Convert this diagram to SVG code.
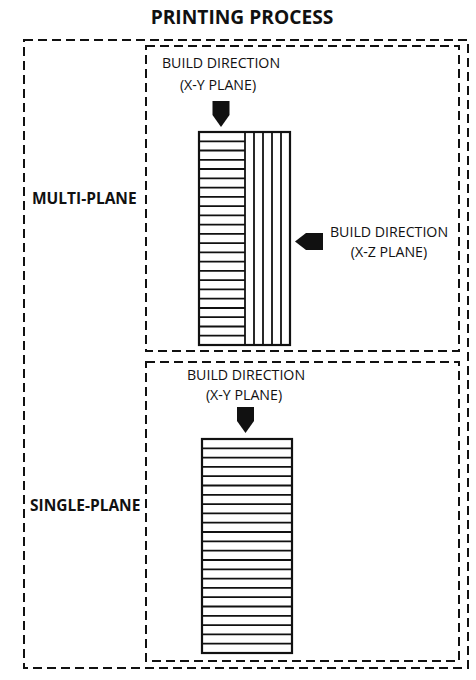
<svg xmlns="http://www.w3.org/2000/svg" width="476" height="680" viewBox="0 0 476 680">
<defs>
<style>
.dash{fill:none;stroke:#111;stroke-width:2;stroke-dasharray:9 5}
.blk{fill:#fff;stroke:#111;stroke-width:2.2}
.ln{stroke:#111;stroke-width:1.8}
.lbl{font-family:"Open Sans","Liberation Sans",sans-serif;font-size:14.2px;fill:#111;text-anchor:middle}
.hdr{font-family:"Open Sans","Liberation Sans",sans-serif;font-weight:bold;fill:#111}
.arr{fill:#111}
</style>
</defs>
<rect width="476" height="680" fill="#fff"/>
<text class="hdr" x="242" y="24" font-size="19.2" text-anchor="middle">PRINTING PROCESS</text>
<g id="outer"><rect class="dash" x="24" y="40" width="444" height="628"/></g>
<g id="multi-plane">
<rect class="dash" x="146" y="46" width="313" height="305"/>
<text class="hdr" x="32" y="204" font-size="15.5">MULTI-PLANE</text>
<g id="xy-label-top">
<text class="lbl" x="221" y="68">BUILD DIRECTION</text>
<text class="lbl" x="218" y="90">(X-Y PLANE)</text>
<path class="arr" d="M212.5 101H229.5V115L221 127L212.5 115Z"/>
</g>
<g id="block-top">
<rect class="blk" x="199" y="132" width="91" height="213"/>
<line class="ln" x1="245" y1="132" x2="245" y2="345" stroke-width="2.2"/>
<line class="ln" x1="254" y1="132" x2="254" y2="345"/>
<line class="ln" x1="263" y1="132" x2="263" y2="345"/>
<line class="ln" x1="272" y1="132" x2="272" y2="345"/>
<line class="ln" x1="281" y1="132" x2="281" y2="345"/>
<g id="h-lines-top">
<line class="ln" x1="199" y1="141.3" x2="245" y2="141.3"/>
<line class="ln" x1="199" y1="150.5" x2="245" y2="150.5"/>
<line class="ln" x1="199" y1="159.8" x2="245" y2="159.8"/>
<line class="ln" x1="199" y1="169" x2="245" y2="169"/>
<line class="ln" x1="199" y1="178.3" x2="245" y2="178.3"/>
<line class="ln" x1="199" y1="187.6" x2="245" y2="187.6"/>
<line class="ln" x1="199" y1="196.8" x2="245" y2="196.8"/>
<line class="ln" x1="199" y1="206.1" x2="245" y2="206.1"/>
<line class="ln" x1="199" y1="215.3" x2="245" y2="215.3"/>
<line class="ln" x1="199" y1="224.6" x2="245" y2="224.6"/>
<line class="ln" x1="199" y1="233.9" x2="245" y2="233.9"/>
<line class="ln" x1="199" y1="243.1" x2="245" y2="243.1"/>
<line class="ln" x1="199" y1="252.4" x2="245" y2="252.4"/>
<line class="ln" x1="199" y1="261.7" x2="245" y2="261.7"/>
<line class="ln" x1="199" y1="270.9" x2="245" y2="270.9"/>
<line class="ln" x1="199" y1="280.2" x2="245" y2="280.2"/>
<line class="ln" x1="199" y1="289.4" x2="245" y2="289.4"/>
<line class="ln" x1="199" y1="298.7" x2="245" y2="298.7"/>
<line class="ln" x1="199" y1="308" x2="245" y2="308"/>
<line class="ln" x1="199" y1="317.2" x2="245" y2="317.2"/>
<line class="ln" x1="199" y1="326.5" x2="245" y2="326.5"/>
<line class="ln" x1="199" y1="335.7" x2="245" y2="335.7"/>
</g>
</g>
<g id="xz-label">
<text class="lbl" x="389" y="237">BUILD DIRECTION</text>
<text class="lbl" x="389" y="257">(X-Z PLANE)</text>
<path class="arr" d="M323 233V250H306L295 241.5L306 233Z"/>
</g>
</g>
<g id="single-plane">
<rect class="dash" x="146" y="362" width="313" height="299"/>
<text class="hdr" x="30" y="511" font-size="15.5">SINGLE-PLANE</text>
<g id="xy-label-bottom">
<text class="lbl" x="246" y="380">BUILD DIRECTION</text>
<text class="lbl" x="244" y="400">(X-Y PLANE)</text>
<path class="arr" d="M237 407H254V421L245.5 433L237 421Z"/>
</g>
<g id="block-bottom">
<rect class="blk" x="202" y="439" width="90" height="214"/>
<line class="ln" x1="202" y1="448.3" x2="292" y2="448.3"/>
<line class="ln" x1="202" y1="457.6" x2="292" y2="457.6"/>
<line class="ln" x1="202" y1="466.9" x2="292" y2="466.9"/>
<line class="ln" x1="202" y1="476.2" x2="292" y2="476.2"/>
<line class="ln" x1="202" y1="485.5" x2="292" y2="485.5"/>
<line class="ln" x1="202" y1="494.8" x2="292" y2="494.8"/>
<line class="ln" x1="202" y1="504.1" x2="292" y2="504.1"/>
<line class="ln" x1="202" y1="513.4" x2="292" y2="513.4"/>
<line class="ln" x1="202" y1="522.7" x2="292" y2="522.7"/>
<line class="ln" x1="202" y1="532" x2="292" y2="532"/>
<line class="ln" x1="202" y1="541.3" x2="292" y2="541.3"/>
<line class="ln" x1="202" y1="550.7" x2="292" y2="550.7"/>
<line class="ln" x1="202" y1="560" x2="292" y2="560"/>
<line class="ln" x1="202" y1="569.3" x2="292" y2="569.3"/>
<line class="ln" x1="202" y1="578.6" x2="292" y2="578.6"/>
<line class="ln" x1="202" y1="587.9" x2="292" y2="587.9"/>
<line class="ln" x1="202" y1="597.2" x2="292" y2="597.2"/>
<line class="ln" x1="202" y1="606.5" x2="292" y2="606.5"/>
<line class="ln" x1="202" y1="615.8" x2="292" y2="615.8"/>
<line class="ln" x1="202" y1="625.1" x2="292" y2="625.1"/>
<line class="ln" x1="202" y1="634.4" x2="292" y2="634.4"/>
<line class="ln" x1="202" y1="643.7" x2="292" y2="643.7"/>
</g>
</g>
</svg>
